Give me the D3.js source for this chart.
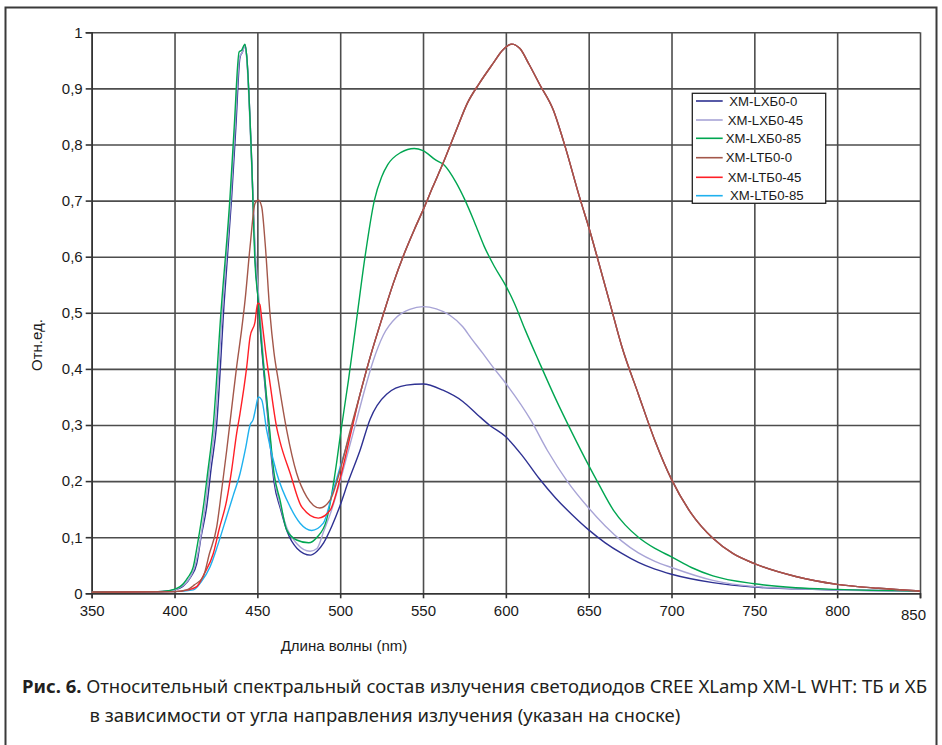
<!DOCTYPE html>
<html>
<head>
<meta charset="utf-8">
<script src="https://cdn.jsdelivr.net/npm/d3@7"></script>
<style>
  body { margin: 0; background: #fff; }
  svg text { font-family: "Liberation Sans", Arial, sans-serif; fill: #1a1a1a; }
  .caption text, text.caption { font-family: "Noto Sans", sans-serif; fill: #231f20; }
</style>
</head>
<body>
<svg id="chart" width="942" height="745"></svg>
<script>
// x ticks (nm) and y ticks (rel. units)
var xTicks = [350, 400, 450, 500, 550, 600, 650, 700, 750, 800, 850];
var yTicks = [0, 0.1, 0.2, 0.3, 0.4, 0.5, 0.6, 0.7, 0.8, 0.9, 1];

// series names as in the legend
var seriesNames = ['XM-LXБ0-0', 'XM-LXБ0-45', 'XM-LXБ0-85', 'XM-LTБ0-0', 'XM-LTБ0-45', 'XM-LTБ0-85'];
var seriesColors = ['#2e3192', '#a8a4d6', '#00a651', '#a3574a', '#ff1f26', '#1fb1ee'];

// [wavelength, value]
var xb0_0 = [[350,0.003],[390,0.003],[400,0.006],[405,0.012],[410,0.03],[413.4,0.053],[416,0.1],[419.4,0.154],[422,0.22],[425.4,0.3],[430,0.52],[434.5,0.707],[437,0.83],[439.5,0.955],[441,0.965],[442.5,0.978],[443.5,0.96],[446.6,0.77],[448.6,0.6],[450.6,0.52],[452,0.46],[454.6,0.37],[457.6,0.27],[460,0.2],[464,0.15],[468,0.11],[474,0.08],[482,0.068],[486,0.075],[490,0.09],[495,0.12],[500,0.157],[505,0.2],[512,0.255],[518,0.31],[528,0.355],[540,0.371],[550,0.373],[562,0.362],[574,0.342],[583,0.318],[590,0.3],[600,0.279],[610,0.245],[620,0.205],[630,0.17],[640,0.14],[650,0.113],[660,0.09],[670,0.071],[680,0.055],[690,0.043],[700,0.034],[725,0.019],[750,0.011],[775,0.008],[800,0.006],[850,0.004]];

var xb0_45 = [[350,0.003],[395,0.003],[403,0.01],[411.3,0.04],[418.4,0.154],[421,0.22],[424.4,0.3],[429,0.51],[434,0.707],[436.5,0.83],[439.2,0.955],[441,0.965],[442.5,0.976],[443.5,0.955],[446.6,0.76],[448.6,0.62],[451.6,0.5],[454.6,0.38],[457.6,0.28],[460,0.21],[464,0.155],[468,0.115],[474,0.088],[481.8,0.075],[486,0.08],[490,0.11],[495,0.15],[500,0.2],[505,0.255],[510,0.31],[515,0.365],[520,0.415],[526,0.46],[534,0.492],[542,0.506],[550,0.511],[558,0.507],[566,0.496],[574,0.475],[579,0.455],[586,0.428],[592,0.404],[600,0.374],[615,0.309],[625,0.255],[637,0.2],[650,0.152],[660,0.12],[670,0.093],[680,0.072],[690,0.057],[700,0.046],[725,0.023],[750,0.012],[800,0.006],[850,0.004]];

var xb0_85 = [[350,0.003],[390,0.003],[395,0.004],[403.3,0.012],[408,0.028],[411.3,0.047],[414,0.09],[417.4,0.154],[420,0.215],[423.4,0.3],[428,0.5],[433.5,0.707],[436,0.83],[439,0.965],[440.5,0.968],[442.5,0.979],[443.5,0.96],[446.6,0.766],[448.6,0.588],[450.6,0.52],[452,0.465],[454.6,0.38],[457.6,0.285],[460,0.215],[463.7,0.166],[467.7,0.113],[473.7,0.095],[481,0.09],[486,0.1],[491.7,0.13],[497.8,0.232],[500,0.28],[505,0.38],[510,0.49],[515,0.6],[520.6,0.7],[525,0.742],[528.7,0.764],[536.7,0.786],[544.7,0.793],[550,0.789],[557.8,0.772],[562.9,0.763],[570,0.732],[575,0.703],[581,0.662],[587,0.618],[593,0.583],[600,0.548],[605,0.518],[611.6,0.47],[620,0.413],[630,0.347],[640,0.286],[650,0.228],[656,0.195],[665,0.148],[672,0.122],[680,0.1],[690,0.08],[700,0.065],[712,0.046],[725,0.031],[750,0.017],[775,0.01],[800,0.007],[850,0.004]];

var xt0_0 = [[350,0.002],[400,0.003],[407.3,0.006],[412,0.015],[417.4,0.03],[421,0.07],[425.5,0.119],[428.5,0.185],[431.5,0.255],[434.5,0.33],[437.5,0.404],[440.5,0.47],[442.6,0.523],[445.6,0.618],[448.6,0.695],[450.6,0.701],[452.6,0.689],[454.7,0.624],[457.6,0.499],[460,0.43],[462.6,0.38],[467.7,0.291],[473.7,0.214],[479.8,0.172],[487.7,0.152],[493.9,0.166],[500,0.22],[506,0.29]];

var xt0_45 = [[350,0.002],[400,0.003],[408,0.006],[413.4,0.012],[418,0.035],[423.4,0.071],[427,0.115],[431.5,0.166],[434.5,0.22],[437.5,0.285],[439.5,0.32],[443.6,0.404],[445.6,0.457],[448.6,0.484],[450.2,0.517],[451.5,0.515],[452.6,0.49],[455,0.43],[457.6,0.375],[461.7,0.295],[463.7,0.27],[469.8,0.214],[476.8,0.154],[486.8,0.134],[493.9,0.148],[500,0.205],[506,0.28]];

var xt0_85 = [[350,0.002],[400,0.003],[411.3,0.006],[416,0.02],[421.4,0.047],[426,0.085],[431.5,0.137],[435.5,0.175],[439.6,0.214],[443,0.26],[445.6,0.3],[447.5,0.31],[449,0.33],[450.6,0.35],[452.6,0.345],[455.6,0.291],[461.7,0.214],[469.8,0.154],[475.8,0.125],[482.8,0.112],[489.8,0.125],[495.8,0.184],[500,0.225],[506,0.285]];

// the three XM-LTБ0 curves run together from ~512 nm on
var xtTail = [[512,0.355],[518,0.42],[526,0.497],[532,0.552],[539,0.608],[545,0.65],[550,0.683],[556,0.725],[562,0.766],[570,0.825],[577,0.875],[584,0.909],[592.4,0.945],[598,0.968],[603.5,0.979],[608.5,0.971],[614,0.943],[620.6,0.906],[628.7,0.861],[634.8,0.806],[644.8,0.703],[650.8,0.645],[656,0.59],[663,0.515],[670,0.44],[680,0.355],[690,0.272],[700,0.203],[712,0.142],[725,0.098],[737,0.071],[750,0.053],[775,0.03],[800,0.016],[825,0.009],[850,0.004]];

var seriesData = [xb0_0, xb0_45, xb0_85, xt0_0.concat(xtTail), xt0_45.concat(xtTail), xt0_85.concat(xtTail)];

var svg = d3.select('#chart');

// outer frame
svg.append('rect')
  .attr('x', 5.5).attr('y', 7.5)
  .attr('width', 931).attr('height', 745)
  .attr('fill', 'none').attr('stroke', '#3a3a3a').attr('stroke-width', 2);

var mLeft = 91.7, mRight = 920, mTop = 32.3, mBottom = 593.3;
var W = mRight - mLeft, H = mBottom - mTop;

var x = d3.scaleLinear().domain([350, 850]).range([0, W]);
var y = d3.scaleLinear().domain([0, 1]).range([H, 0]);

var g = svg.append('g').attr('transform', 'translate(' + mLeft + ',' + mTop + ')');

// grid
var gridX = g.append('g').attr('transform', 'translate(0,' + H + ')')
  .call(d3.axisBottom(x).tickValues(xTicks).tickSize(-H).tickFormat(''));
var gridY = g.append('g')
  .call(d3.axisLeft(y).tickValues(yTicks).tickSize(-W).tickFormat(''));
[gridX, gridY].forEach(function(a) {
  a.select('.domain').remove();
  a.selectAll('line').attr('stroke', '#4d4d4d').attr('stroke-width', 1.6);
});

// axes with outward ticks and labels
function yFmt(d) {
  if (d === 0) return '0';
  if (d === 1) return '1';
  return d3.format('.1f')(d).replace('.', ',');
}
var yAxis = g.append('g')
  .call(d3.axisLeft(y).tickValues(yTicks).tickSize(6).tickPadding(3).tickFormat(yFmt));
var xAxis = g.append('g').attr('transform', 'translate(0,' + H + ')')
  .call(d3.axisBottom(x).tickValues(xTicks).tickSize(5).tickPadding(7).tickFormat(d3.format('d')));
[xAxis, yAxis].forEach(function(a) {
  a.select('.domain').attr('stroke', '#333').attr('stroke-width', 1.6);
  a.selectAll('line').attr('stroke', '#333').attr('stroke-width', 1.6);
  a.selectAll('text').attr('font-size', 15).attr('fill', '#1a1a1a')
    .attr('font-family', '"Liberation Sans", Arial, sans-serif');
});
// the last x label sits a bit lower and to the left
xAxis.selectAll('.tick').filter(function(d) { return d === 850; })
  .select('text').attr('dx', -7).attr('dy', '1.0em');

// series lines
var line = d3.line()
  .x(function(d) { return x(d[0]); })
  .y(function(d) { return y(d[1]); })
  .curve(d3.curveMonotoneX);

var drawOrder = [0, 1, 2, 5, 4, 3];
drawOrder.forEach(function(i) {
  g.append('path')
    .datum(seriesData[i])
    .attr('d', line)
    .attr('fill', 'none')
    .attr('stroke', seriesColors[i])
    .attr('stroke-width', 1.4)
    .attr('stroke-linejoin', 'round');
});

// legend
var legend = svg.append('g');
legend.append('rect')
  .attr('x', 692.3).attr('y', 93.3).attr('width', 133.4).attr('height', 110)
  .attr('fill', '#fff').attr('stroke', '#222').attr('stroke-width', 1.3);
var legY = [101, 120, 138.3, 157.7, 177.3, 195.7];
var legTx = [729.3, 727.7, 725.7, 725.7, 727.7, 730];
seriesNames.forEach(function(name, i) {
  legend.append('line')
    .attr('x1', 696).attr('x2', 722.7)
    .attr('y1', legY[i]).attr('y2', legY[i])
    .attr('stroke', seriesColors[i]).attr('stroke-width', 1.6);
  legend.append('text')
    .attr('x', legTx[i]).attr('y', legY[i]).attr('dy', '0.36em')
    .attr('font-size', 13.2)
    .text(name);
});

// axis titles
svg.append('text')
  .attr('transform', 'translate(42,345) rotate(-90)')
  .attr('text-anchor', 'middle')
  .attr('font-size', 15)
  .text('Отн.ед.');
svg.append('text')
  .attr('x', 344).attr('y', 651)
  .attr('text-anchor', 'middle')
  .attr('font-size', 15)
  .text('Длина волны (nm)');

// caption
var cap = svg.append('g').attr('class', 'caption');
var line1 = cap.append('text').attr('x', 22).attr('y', 693).attr('font-size', 17);
line1.append('tspan').attr('font-weight', 'bold').text('Рис. 6.');
line1.append('tspan').attr('dx', '0.25em')
  .text('Относительный спектральный состав излучения светодиодов CREE XLamp XM-L WHT: ТБ и ХБ');
var line2 = cap.append('text').attr('x', 89.5).attr('y', 721.5).attr('font-size', 17)
  .text('в зависимости от угла направления излучения (указан на сноске)');

// fit first caption line to its width in the picture
var w1 = line1.node().getComputedTextLength();
var fs = 17 * 901 / w1;
line1.attr('font-size', fs);
line2.attr('font-size', fs);
</script>
</body>
</html>
